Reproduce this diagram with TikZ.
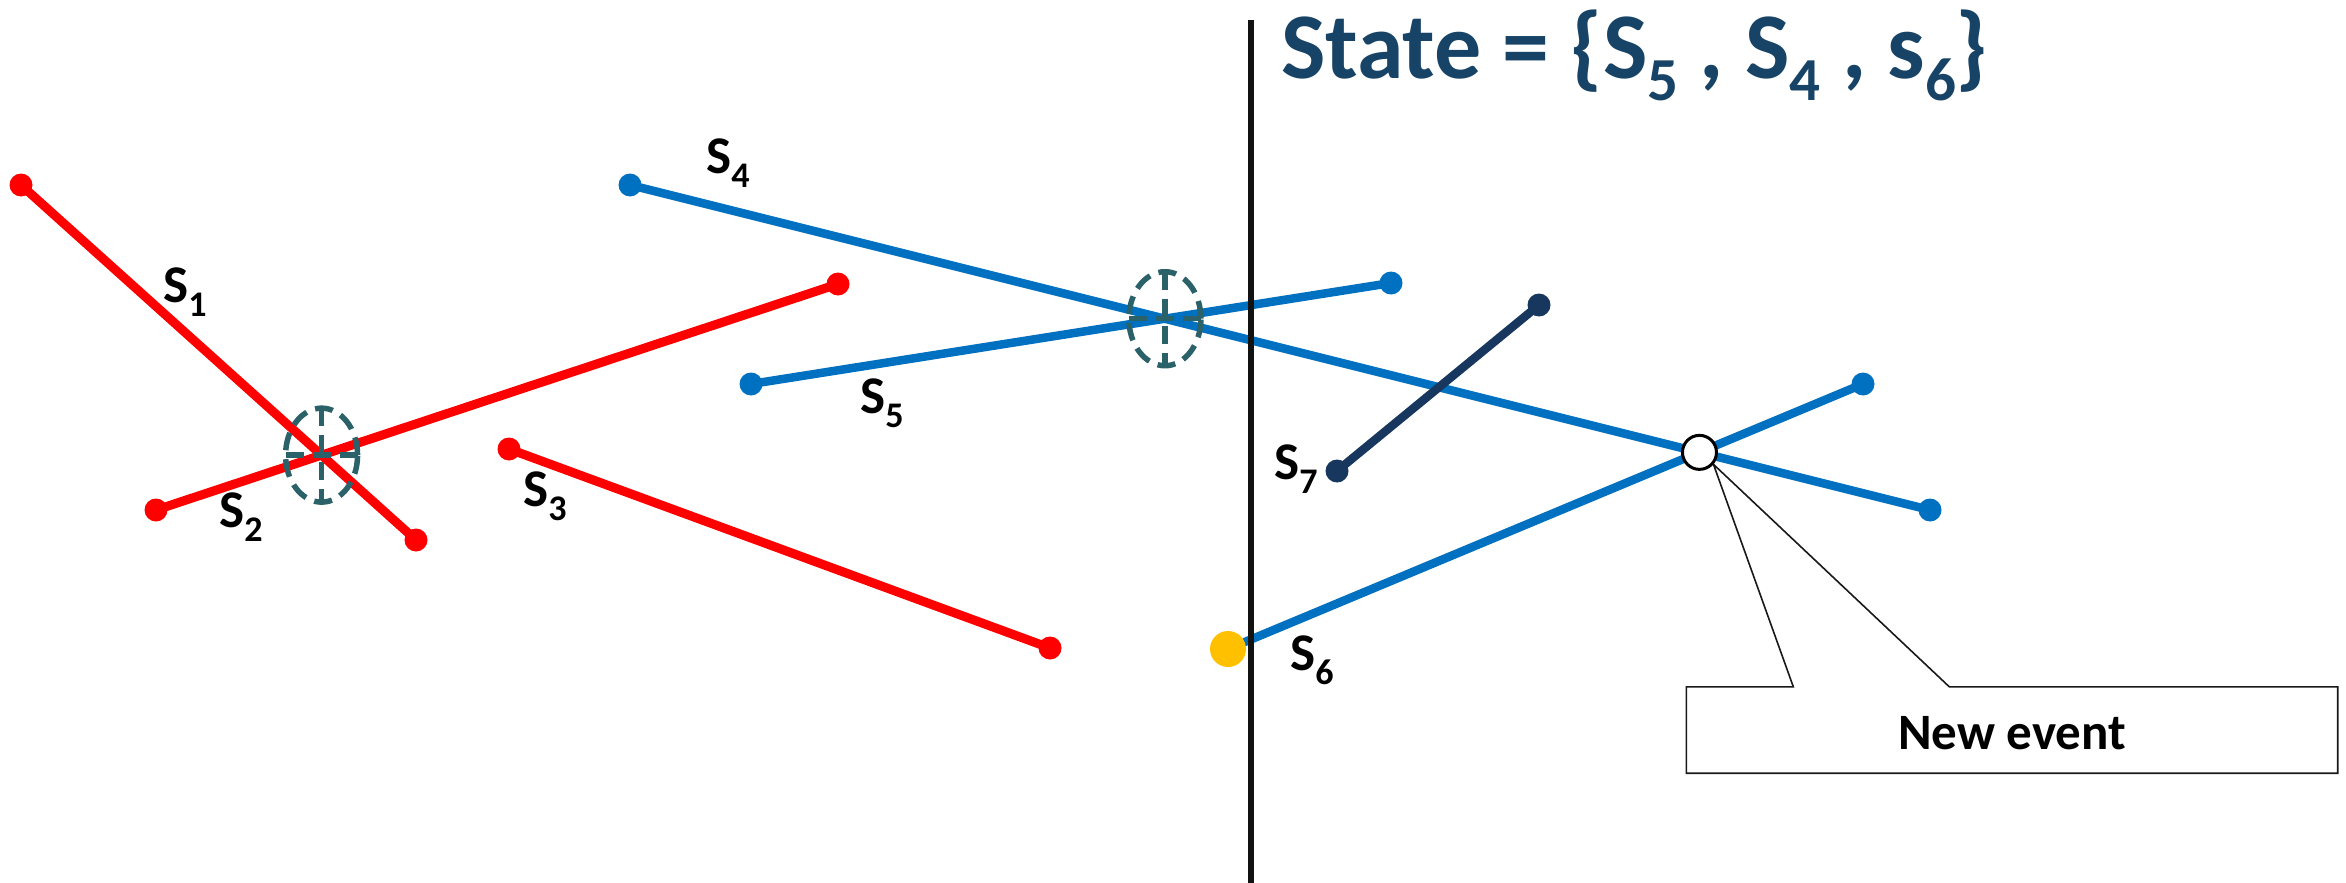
\documentclass[tikz,border=0pt]{standalone}
\usepackage{fontspec}
\setmainfont{Carlito}
\usepackage{graphicx}
\usetikzlibrary{calc}
\newcommand{\sbx}[1]{\raisebox{-0.27em}{\scalebox{0.68}{#1}}}
\newcommand{\tsbx}[1]{\raisebox{-0.24em}{\scalebox{0.65}{#1}}}
\definecolor{segred}{HTML}{FF0000}
\definecolor{segblue}{HTML}{0070C0}
\definecolor{segnavy}{HTML}{17375E}
\definecolor{ringteal}{HTML}{2B6169}
\definecolor{titleblue}{HTML}{174366}
\definecolor{startyellow}{HTML}{FFC000}
\tikzset{
  redseg/.style={draw=segred, line width=9pt},
  blueseg/.style={draw=segblue, line width=8.5pt},
  navyseg/.style={draw=segnavy, line width=8.5pt},
  reddot/.style={fill=segred},
  bluedot/.style={fill=segblue},
  navydot/.style={fill=segnavy},
  ring/.style={draw=ringteal, line width=5.5pt, dash pattern=on 18pt off 9pt},
  lbl/.style={font=\bfseries\fontsize{53}{57}\selectfont, inner sep=0pt, text=black},
  evt/.style={circle, draw=black, line width=3pt, fill=white, minimum size=34pt, inner sep=0pt},
  callout/.style={draw=black!90, line width=1.6pt, fill=white},
  sweep/.style={draw=black!93, line width=5.5pt}
}
\begin{document}
\begin{tikzpicture}[x=1pt,y=-1pt]
\useasboundingbox (0,0) rectangle (2346,883);
% endpoints
\coordinate (s1a) at (21,185);   \coordinate (s1b) at (416,540);
\coordinate (s2a) at (156,510);  \coordinate (s2b) at (838,284);
\coordinate (s3a) at (509,449);  \coordinate (s3b) at (1050,648);
\coordinate (s4a) at (630,185);  \coordinate (s4b) at (1930,510);
\coordinate (s5a) at (751,384);  \coordinate (s5b) at (1391,283);
\coordinate (s6a) at (1228,649); \coordinate (s6b) at (1863,384);
\coordinate (s7a) at (1337,471); \coordinate (s7b) at (1539,305);
% segments
\draw[redseg] (s1a) -- (s1b);
\draw[redseg] (s2a) -- (s2b);
\draw[redseg] (s3a) -- (s3b);
\draw[blueseg] (s4a) -- (s4b);
\draw[blueseg] (s5a) -- (s5b);
\draw[blueseg] (s6a) -- (s6b);
\draw[navyseg] (s7a) -- (s7b);
% endpoint dots
\foreach \p in {s1a,s1b,s2a,s2b,s3a,s3b} \fill[reddot] (\p) circle[radius=11.5pt];
\foreach \p in {s4a,s4b,s5a,s5b,s6b} \fill[bluedot] (\p) circle[radius=11.5pt];
\foreach \p in {s7a,s7b} \fill[navydot] (\p) circle[radius=11.5pt];
\fill[startyellow] (s6a) circle[radius=18pt];
% intersection rings
\coordinate (x12) at (intersection of s1a--s1b and s2a--s2b);
\coordinate (x45) at (intersection of s4a--s4b and s5a--s5b);
\coordinate (x46) at (intersection of s4a--s4b and s6a--s6b);
\foreach \c in {x12,x45} {
  \draw[ring] (\c) ellipse[x radius=36pt, y radius=47pt];
  \draw[ring] ($(\c)+(0,-47)$) -- ($(\c)+(0,47)$);
  \draw[ring] ($(\c)+(-36,0)$) -- ($(\c)+(36,0)$);
}
% sweep line
\coordinate (vt) at (1251,20);
\coordinate (vb) at (1251,883);
\draw[sweep] (vt) -- (vb);
% labels
\node[lbl] (l1) at (185,292) {S\sbx{1}};
\node[lbl] (l2) at (241,517) {S\sbx{2}};
\node[lbl] (l3) at (545,496) {S\sbx{3}};
\node[lbl] (l4) at (728,163) {S\sbx{4}};
\node[lbl] (l5) at (882,403) {S\sbx{5}};
\node[lbl] (l6) at (1312,660) {S\sbx{6}};
\node[lbl] (l7) at (1296,469) {S\sbx{7}};
% title
\node[anchor=base west, inner sep=0pt, text=titleblue, font=\bfseries\fontsize{94}{98}\selectfont] (title) at (1281,78) {State = \{S\tsbx{5} , S\tsbx{4} , s\tsbx{6}\}};
% callout
\node[inner sep=0pt, minimum width=651pt, minimum height=86pt] (nb) at (2012,730) {};
\draw[callout] (nb.north west) -- ($(nb.north west)+(107,0)$) -- ($(x46)+(14,12)$) -- ($(nb.north west)+(263,0)$) -- (nb.north east) -- (nb.south east) -- (nb.south west) -- cycle;
\node[font=\bfseries\fontsize{51}{55}\selectfont, inner sep=0pt] (nbt) at ($(nb.center)+(0,3)$) {New event};
\node[evt] (ev) at (x46) {};
\end{tikzpicture}
\end{document}
